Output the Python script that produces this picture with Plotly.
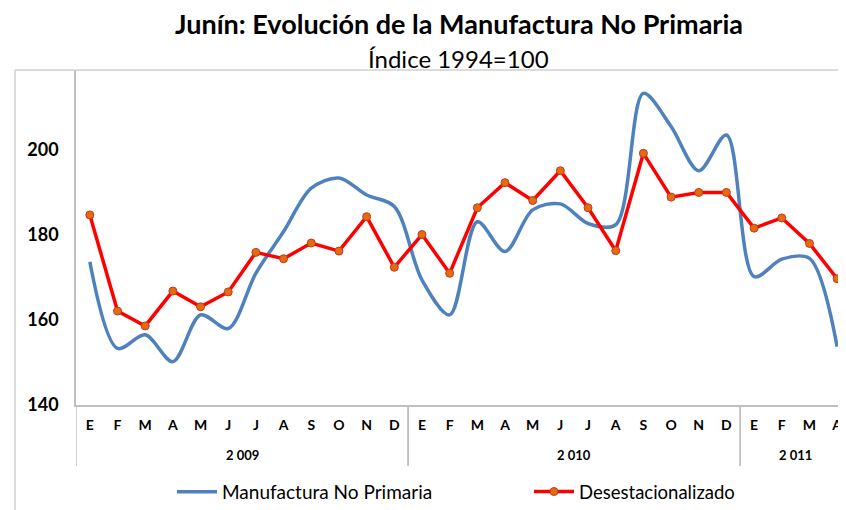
import plotly.graph_objects as go

years = ["2 009"] * 12 + ["2 010"] * 12 + ["2 011"] * 4
months = ["E", "F", "M", "A", "M", "J", "J", "A", "S", "O", "N", "D",
          "E", "F", "M", "A", "M", "J", "J", "A", "S", "O", "N", "D",
          "E", "F", "M", "A"]
manufactura = [173.7, 153.3, 156.5, 150.2, 161.2, 158.0, 171.0, 180.8, 191.0, 193.4, 189.4, 186.7,
               169.4, 161.2, 183.1, 176.1, 185.9, 187.3, 182.7, 182.4, 213.3, 205.5, 195.1, 203.5,
               170.2, 174.3, 174.5, 153.7]
desest = [184.7, 162.1, 158.6, 166.8, 163.1, 166.6, 175.9, 174.4, 178.1, 176.2, 184.3, 172.4,
          180.1, 171.0, 186.4, 192.3, 188.1, 195.1, 186.4, 176.3, 199.2, 188.9, 190.0, 190.0,
          181.6, 184.0, 178.0, 169.7]

idx = list(range(len(months)))

FONT = "Lato, Carlito, Calibri, sans-serif"
GRAY = "#BFBFBF"

# page body has an 8px margin: work in window pixels and convert
OFF = 8
W, H = 846 - OFF, 510 - OFF
PL, PR, PT, PB = 76, 846, 70, 405          # plot area in window pixels
L, R, T, B = PL - OFF, (846 - PR), PT - OFF, 510 - PB
pw, ph = PR - PL, PB - PT

def px_x(x):
    return (x - PL) / pw

def px_y(y):
    return (PB - y) / ph

fig = go.Figure()
fig.add_trace(go.Scatter(
    x=idx, y=manufactura, mode="lines", name="Manufactura No Primaria",
    line=dict(color="#4F81BD", width=3.5, shape="spline", smoothing=0.9),
    legend="legend",
))
fig.add_trace(go.Scatter(
    x=idx, y=desest, mode="lines+markers", name="Desestacionalizado",
    line=dict(color="#FF0000", width=3.5),
    marker=dict(color="#E46C0A", size=8, line=dict(color="#C0392B", width=1)),
    legend="legend2",
))

# year groups (labels and dividers) derived from the category data
groups = []
start = 0
for i in range(1, len(years) + 1):
    if i == len(years) or years[i] != years[start]:
        groups.append((years[start], start, i - 1))
        start = i

annotations = [
    dict(text="<b>Junín: Evolución de la Manufactura No Primaria</b>", xref="paper", yref="paper",
         x=px_x(459), y=px_y(23), xanchor="center", yanchor="middle", showarrow=False,
         font=dict(size=27, family=FONT)),
    dict(text="Índice 1994=100", xref="paper", yref="paper",
         x=px_x(458), y=px_y(58), xanchor="center", yanchor="middle", showarrow=False,
         font=dict(size=24, family=FONT)),
]
shapes = [
    dict(type="line", xref="paper", yref="paper", x0=px_x(15), x1=px_x(846), y0=px_y(70), y1=px_y(70),
         line=dict(color="#D0D0D0", width=1.5)),
    dict(type="line", xref="paper", yref="paper", x0=px_x(15), x1=px_x(15), y0=px_y(70), y1=px_y(510),
         line=dict(color="#D0D0D0", width=1.5)),
]
for name, a, b in groups:
    annotations.append(dict(text="<b>%s</b>" % name, xref="x", yref="paper", x=(a + b) / 2,
                            y=px_y(455), xanchor="center", yanchor="middle", showarrow=False,
                            font=dict(size=13, family=FONT)))
    for edge in (a - 0.5, b + 0.5):
        shapes.append(dict(type="line", xref="x", yref="paper", x0=edge, x1=edge,
                           y0=0, y1=px_y(466), line=dict(color=GRAY, width=1.5)))

fig.update_layout(
    width=W, height=H,
    margin=dict(l=L, r=R, t=T, b=B, pad=0, autoexpand=False),
    paper_bgcolor="white", plot_bgcolor="white",
    font=dict(family=FONT, color="black"),
    showlegend=True,
    legend=dict(orientation="h", x=px_x(172), y=px_y(492), xanchor="left", yanchor="middle",
                font=dict(size=19, family=FONT), itemwidth=40, bgcolor="rgba(0,0,0,0)"),
    legend2=dict(orientation="h", x=px_x(529), y=px_y(492), xanchor="left", yanchor="middle",
                 font=dict(size=18.5, family=FONT), itemwidth=40, bgcolor="rgba(0,0,0,0)"),
    xaxis=dict(
        range=[-0.5, 27.32], showgrid=False, zeroline=False, automargin=False,
        showline=True, linecolor=GRAY, linewidth=1.5,
        tickvals=idx, ticktext=["<b>%s</b>" % m for m in months],
        tickfont=dict(size=14, family=FONT), ticks="", ticklabelstandoff=6,
    ),
    yaxis=dict(
        range=[140, 218.8], tickvals=[140, 160, 180, 200], showgrid=False, automargin=False,
        showline=True, linecolor=GRAY, linewidth=1.5, zeroline=False,
        tickfont=dict(size=18, family=FONT, weight="bold"), ticks="",
        ticklabelstandoff=12,
    ),
    annotations=annotations,
    shapes=shapes,
)

fig.write_html("out.html")
